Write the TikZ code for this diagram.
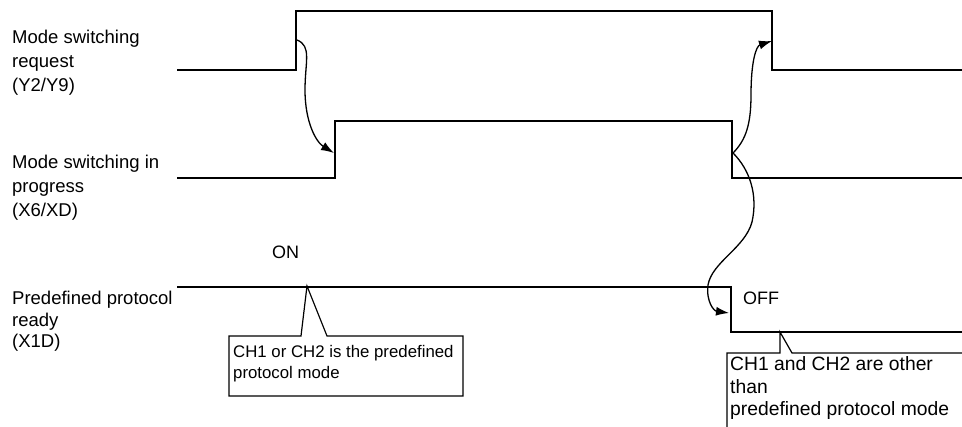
\documentclass[tikz,border=0pt]{standalone}
\usepackage{fontspec}
\setmainfont{Liberation Sans}
\usetikzlibrary{arrows.meta}
\begin{document}
\begin{tikzpicture}[x=1pt,y=-1pt,
  sig/.style={line width=1.3pt,line join=miter},
  sigbold/.style={line width=2.3pt},
  lab/.style={anchor=base west,inner sep=0pt,align=left,font=\fontsize{18.5}{24}\selectfont},
  state/.style={anchor=base west,inner sep=0pt,font=\fontsize{18}{20}\selectfont},
  note/.style={anchor=base west,inner sep=0pt,align=left},
  box/.style={line width=1.2pt,line join=miter},
  cause/.style={line width=1.3pt,-{Latex[length=13pt,width=9pt]}}]
\useasboundingbox (0,0) rectangle (962,427);
% labels (anchor = baseline of last line)
\node[lab] (lreq) at (12,92) {Mode switching\\request\\(Y2/Y9)};
\node[lab] (lprog) at (12,217) {Mode switching in\\progress\\(X6/XD)};
\node[lab,font=\fontsize{18.5}{21.5}\selectfont] (lrdy) at (12,348) {Predefined protocol\\ready\\(X1D)};
% signal 1
\coordinate (r1) at (297,40);
\coordinate (f1) at (772,41);
\draw[sig] (177,70) -- (296,70) -- (296,11) -- (772,11) -- (772,70) -- (962,70);
% signal 2
\coordinate (r2) at (334,153);
\coordinate (f2) at (733,153);
\draw[sig] (177,178) -- (335,178) -- (335,121) -- (732,121) -- (732,178) -- (962,178);
% signal 3
\coordinate (f3) at (729,313);
\draw[sigbold] (177,287) -- (731,287);
\draw[sig] (731,286) -- (731,332) -- (962,332);
% states
\node[state] (on) at (272,259) {ON};
\node[state] (off) at (743,305) {OFF};
% callout 1
\draw[box] (229,336) -- (301,336) -- (307,286) -- (327,336) -- (463,336) -- (463,396) -- (229,396) -- cycle;
\node[note,font=\fontsize{16.8}{21}\selectfont] (n1) at (233,379) {CH1 or CH2 is the predefined\\protocol mode};
% callout 2
\draw[box] (727,428) -- (727,353) -- (780,353) -- (780,332) -- (792,353) -- (963,353);
\node[note,font=\fontsize{19.3}{22.5}\selectfont] (n2) at (730,416) {CH1 and CH2 are other\\than\\predefined protocol mode};
% cause arrows
\draw[cause] (r1) .. controls (312,46) and (305,62) .. (305,90) .. controls (305,122) and (316,142) .. (r2);
\draw[cause] (f2) .. controls (746,140) and (751,124) .. (751,95) .. controls (751,62) and (756,46) .. (f1);
\draw[cause] (f2) .. controls (750,170) and (758,195) .. (752,222) .. controls (745,248) and (712,262) .. (708,285) .. controls (706,302) and (714,311) .. (f3);
\end{tikzpicture}
\end{document}
